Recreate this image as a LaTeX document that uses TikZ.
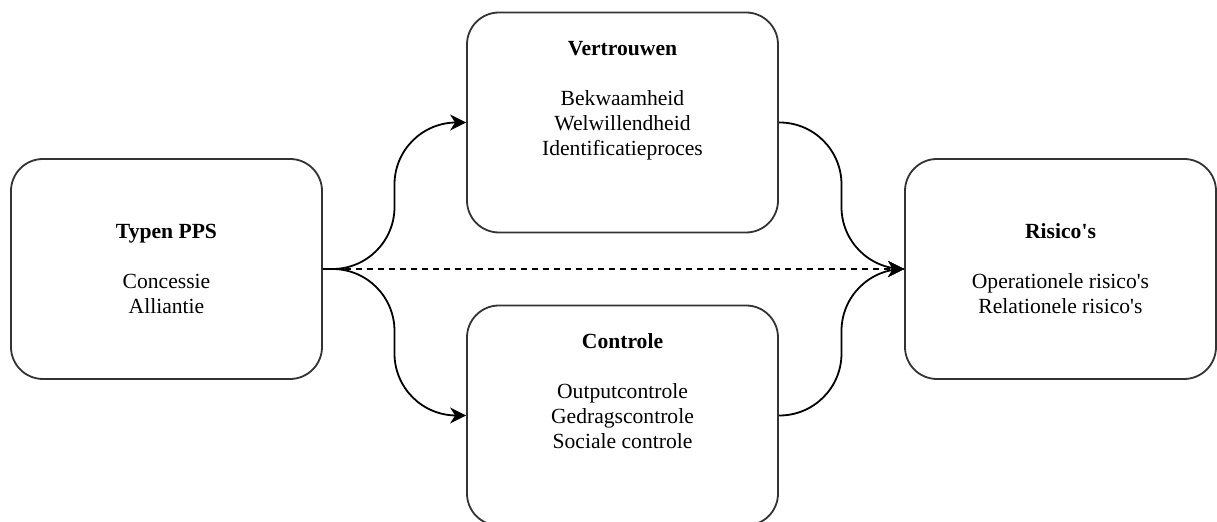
\documentclass[tikz,border=0pt]{standalone}
\usepackage{fontspec}
\setmainfont{Liberation Serif}
\usetikzlibrary{arrows.meta, positioning, calc}

\begin{document}
\begin{tikzpicture}[on grid,>={Stealth[length=8pt,width=8pt,inset=2.5pt]},line width=0.9pt,
      box/.style={draw=black!80,rounded corners=16pt,minimum width=155.5pt,minimum height=110pt,
        align=center,font=\fontsize{10.8}{12.5}\selectfont},
      % orthogonal connector with soft bends
      bus/.style={rounded corners=31pt,to path={let \p1=(\tikztostart), \p2=(\tikztotarget) in
        -- ({(\x1+\x2)/2},\y1) -- ({(\x1+\x2)/2},\y2) -- (\tikztotarget)}},
      dashline/.style={dash pattern=on 3pt off 2.5pt}]
      \useasboundingbox (-83.25pt,134.5pt) rectangle (525.25pt,-126.5pt);
      \node[box] (typen) {\textbf{Typen PPS}\\[12.5pt] Concessie\\ Alliantie};
      \node[box] (vertr) [above right=73.25pt and 228pt of typen]
        {\textbf{Vertrouwen}\\[12.5pt] Bekwaamheid\\ Welwillendheid\\ Identificatieproces\\[12pt]\mbox{}};
      \node[box] (contr) [below right=73.25pt and 228pt of typen]
        {\textbf{Controle}\\[12.5pt] Outputcontrole\\ Gedragscontrole\\ Sociale controle\\[12pt]\mbox{}};
      \node[box] (risico) [right=447pt of typen]
        {\textbf{Risico\textquotesingle s}\\[12.5pt] Operationele risico\textquotesingle s\\ Relationele risico\textquotesingle s};
      \path[->]
      (typen.east) edge [bus] (vertr.west)
      (typen.east) edge [bus] (contr.west)
      (vertr.east) edge [bus] (risico.west)
      (contr.east) edge [bus] (risico.west)
      (typen.east) edge [dashline] (risico.west);
    \end{tikzpicture}
\end{document}
